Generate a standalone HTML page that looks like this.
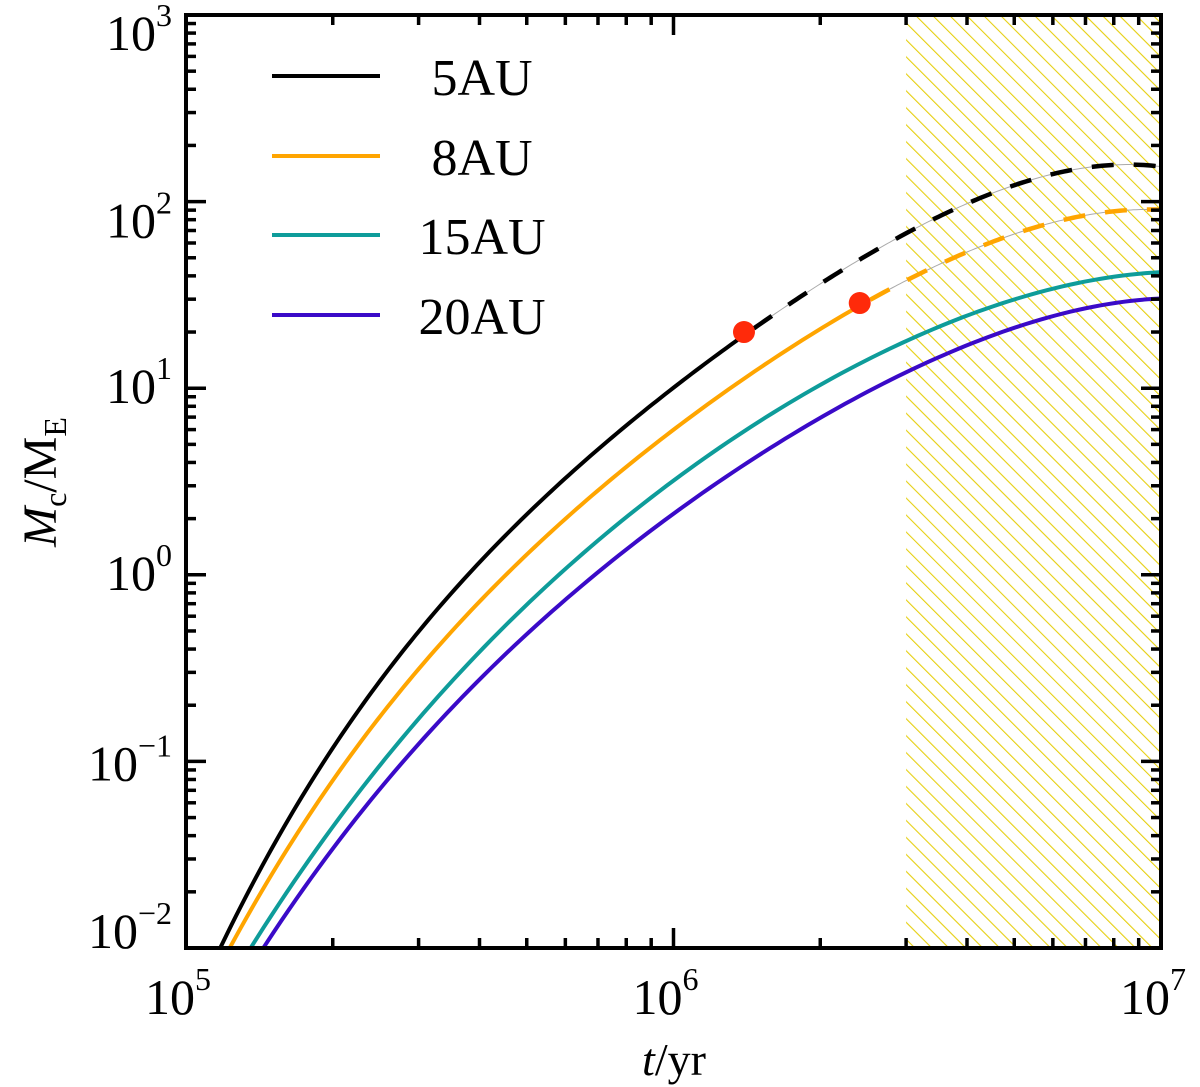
<!DOCTYPE html>
<html><head><meta charset="utf-8"><style>
html,body{margin:0;padding:0;background:#fff;}
svg{display:block;font-family:"Liberation Serif","Times New Roman",serif;}
</style></head><body>
<svg id="chart" width="1200" height="1087" viewBox="0 0 1200 1087">
<defs>
<pattern id="hatch" patternUnits="userSpaceOnUse" width="12" height="12" patternTransform="rotate(-45)">
<line x1="0" y1="0" x2="0" y2="12" stroke="#e6cf10" stroke-width="2.2"/>
</pattern>
<clipPath id="plotclip"><rect x="186" y="15" width="975" height="933"/></clipPath>
</defs>
<g id="hatchg"></g>
<g id="curves" clip-path="url(#plotclip)"></g>
<g id="axes"></g>
<g id="legend"></g>
<text x="674" y="1075" font-size="46" text-anchor="middle"><tspan font-style="italic">t</tspan>/yr</text>
<text transform="translate(56,482) rotate(-90)" font-size="48" text-anchor="middle"><tspan font-style="italic">M</tspan><tspan font-size="32" dy="10">c</tspan><tspan dy="-10">/M</tspan><tspan font-size="32" dy="10">E</tspan></text>
</svg>
<script>
// ---- data ----
const seriesNames = ["5AU","8AU","15AU","20AU"];
const seriesColors = ["#000000","#ffa500","#0e9c9a","#3a0ac8"];
const t5 = [1.202e5,1.464e5,1.713e5,2.07e5,2.46e5,2.85e5,3.77e5,5.15e5,7.66e5,1.264e6,1.395e6];
const m5 = [0.01,0.0335,0.0703,0.135,0.251,0.395,0.973,2.22,5.47,16.0,20.0];
const t5d = [1.879e6,2.65e6,3.74e6,6.21e6,1e7];
const m5d = [34.8,57.1,88,135,159];
const t8 = [1.27e5,1.58e5,2.0e5,2.54e5,3.37e5,4.41e5,7.07e5,1.046e6,1.435e6,2.41e6];
const m8 = [0.01,0.0394,0.0824,0.173,0.395,0.938,2.96,6.51,12.1,28.6];
const t8d = [2.92e6,4.11e6,6.21e6,1e7];
const m8d = [37.1,53,76.8,92.4];
const t15 = [1.385e5,1.713e5,2.35e5,3.21e5,4.35e5,5.15e5,8.26e5,1.369e6,2.026e6,3.01e6,4.46e6,6.21e6,1e7];
const m15 = [0.01,0.0285,0.0824,0.1956,0.395,0.829,2.43,5.28,11.1,17.5,27.2,34.8,42];
const t20 = [1.452e5,2.0e5,2.75e5,3.77e5,4.41e5,6.05e5,9.7e5,1.435e6,2.196e6,3.52e6,6.21e6,1e7];
const m20 = [0.01,0.0365,0.098,0.221,0.321,0.799,2.22,3.78,7.93,14.7,25.3,30.1];
const dotT = [1.395e6,2.41e6];
const dotM = [20.0,28.6];
const hatchStart = 3e6;
const xTickExp = [5,6,7];
const yTickExp = [-2,-1,0,1,2,3];
const yLabelDy = [0,19,15,15,36,35];

// ---- axes ----
const X0=186,X1=1161,Y0=948,Y1=15;
const xs = t => X0 + (Math.log10(t)-5)/2*(X1-X0);
const ys = m => Y0 - (Math.log10(m)+2)/5*(Y0-Y1);
const NS="http://www.w3.org/2000/svg";
function el(tag,attrs,parent){const e=document.createElementNS(NS,tag);for(const k in attrs)e.setAttribute(k,attrs[k]);parent.appendChild(e);return e;}

const hg=document.getElementById('hatchg');
const hr=el('rect',{x:xs(hatchStart),y:Y1,width:X1-xs(hatchStart),height:Y0-Y1,fill:'url(#hatch)'},hg);



// least-squares polynomial fit in log-log space for smooth curves
function polyfit(T,M,deg){
  const u=T.map(t=>Math.log10(t)-6), v=M.map(m=>Math.log10(m));
  const n=deg+1, A=[];
  for(let r=0;r<n;r++){A.push(new Array(n+1).fill(0));}
  for(let k=0;k<u.length;k++){
    for(let r=0;r<n;r++){
      for(let c=0;c<n;c++)A[r][c]+=Math.pow(u[k],r+c);
      A[r][n]+=v[k]*Math.pow(u[k],r);
    }
  }
  for(let i=0;i<n;i++){
    let p=i;for(let r=i+1;r<n;r++)if(Math.abs(A[r][i])>Math.abs(A[p][i]))p=r;
    [A[i],A[p]]=[A[p],A[i]];
    for(let r=0;r<n;r++){if(r===i)continue;const f=A[r][i]/A[i][i];for(let c=i;c<=n;c++)A[r][c]-=f*A[i][c];}
  }
  return A.map((row,i)=>row[n]/row[i]);
}
function pathFit(co,tA,tB){
  let d='';const N=120;
  const a=Math.log10(tA)-6,b=Math.log10(tB)-6;
  for(let i=0;i<=N;i++){
    const u=a+(b-a)*i/N;let v=0;co.forEach((c,j)=>v+=c*Math.pow(u,j));
    const x=xs(Math.pow(10,u+6)),y=ys(Math.pow(10,v));
    d+=(i?'L':'M')+x.toFixed(2)+','+y.toFixed(2);
  }
  return d;
}
const cg=document.getElementById('curves');
const solids=[[t5,m5,t5d,m5d],[t8,m8,t8d,m8d],[t15,m15,[],[]],[t20,m20,[],[]]];
solids.forEach((s,i)=>{
  const T=s[0].concat(s[2]), M=s[1].concat(s[3]);
  const co=polyfit(T,M,4);
  const tStart=s[0][0]*0.97;
  const tSolidEnd=s[2].length? dotT[i] : 1e7;
  if(s[2].length){
    const d=pathFit(co,dotT[i],1e7);
    const thin=el('path',{d:d,fill:'none',stroke:'#aaa','stroke-width':1},cg);
    
    
    const p=el('path',{d:d,fill:'none',stroke:seriesColors[i],'stroke-width':4.5,'stroke-dasharray':'22 20','stroke-dashoffset':'-12'},cg);
    
    
  }
  const p=el('path',{d:pathFit(co,tStart,tSolidEnd),fill:'none',stroke:seriesColors[i],'stroke-width':4},cg);
  
  
});
dotT.forEach((t,i)=>{
  const c=el('circle',{cx:xs(t),cy:ys(dotM[i]),r:11,fill:'#ff2a0a'},cg);
  
  
});

// axes frame and ticks
const ag=document.getElementById('axes');
const fr=el('rect',{x:X0,y:Y1,width:X1-X0,height:Y0-Y1,fill:'none',stroke:'#000','stroke-width':4},ag);


for(let e=5;e<7;e++)for(let k=1;k<10;k++){
  const x=xs(k*Math.pow(10,e)), L=k===1?20:10;
  el('line',{x1:x,y1:Y0,x2:x,y2:Y0-L,stroke:'#000','stroke-width':3.5},ag);
  el('line',{x1:x,y1:Y1,x2:x,y2:Y1+L,stroke:'#000','stroke-width':3.5},ag);
}
for(let e=-2;e<3;e++)for(let k=1;k<10;k++){
  const y=ys(k*Math.pow(10,e)), L=k===1?20:10;
  el('line',{x1:X0,y1:y,x2:X0+L,y2:y,stroke:'#000','stroke-width':3.5},ag);
  el('line',{x1:X1,y1:y,x2:X1-L,y2:y,stroke:'#000','stroke-width':3.5},ag);
}
xTickExp.forEach(e=>{
  const t=el('text',{x:xs(Math.pow(10,e))-8,y:1014,'font-size':50,'text-anchor':'middle'},ag);
  
  
  t.innerHTML=`10<tspan font-size="32" dy="-24">${e}</tspan>`;
});
yTickExp.forEach((e,i)=>{
  const t=el('text',{x:172,y:ys(Math.pow(10,e))+yLabelDy[i],'font-size':50,'text-anchor':'end'},ag);
  
  
  const ex=e<0?'\u2212'+(-e):''+e;
  t.innerHTML=`10<tspan font-size="32" dy="-24">${ex}</tspan>`;
});

// legend
const lg=document.getElementById('legend');
const legY=[76,156,235,315];
seriesNames.forEach((n,i)=>{
  const g=el('g',{},lg);
  
  
  el('line',{x1:272,y1:legY[i],x2:380,y2:legY[i],stroke:seriesColors[i],'stroke-width':4},g);
  const t=el('text',{x:482,y:legY[i]+19,'font-size':52,'text-anchor':'middle'},g);
  t.textContent=n;
});
</script>
</body></html>
